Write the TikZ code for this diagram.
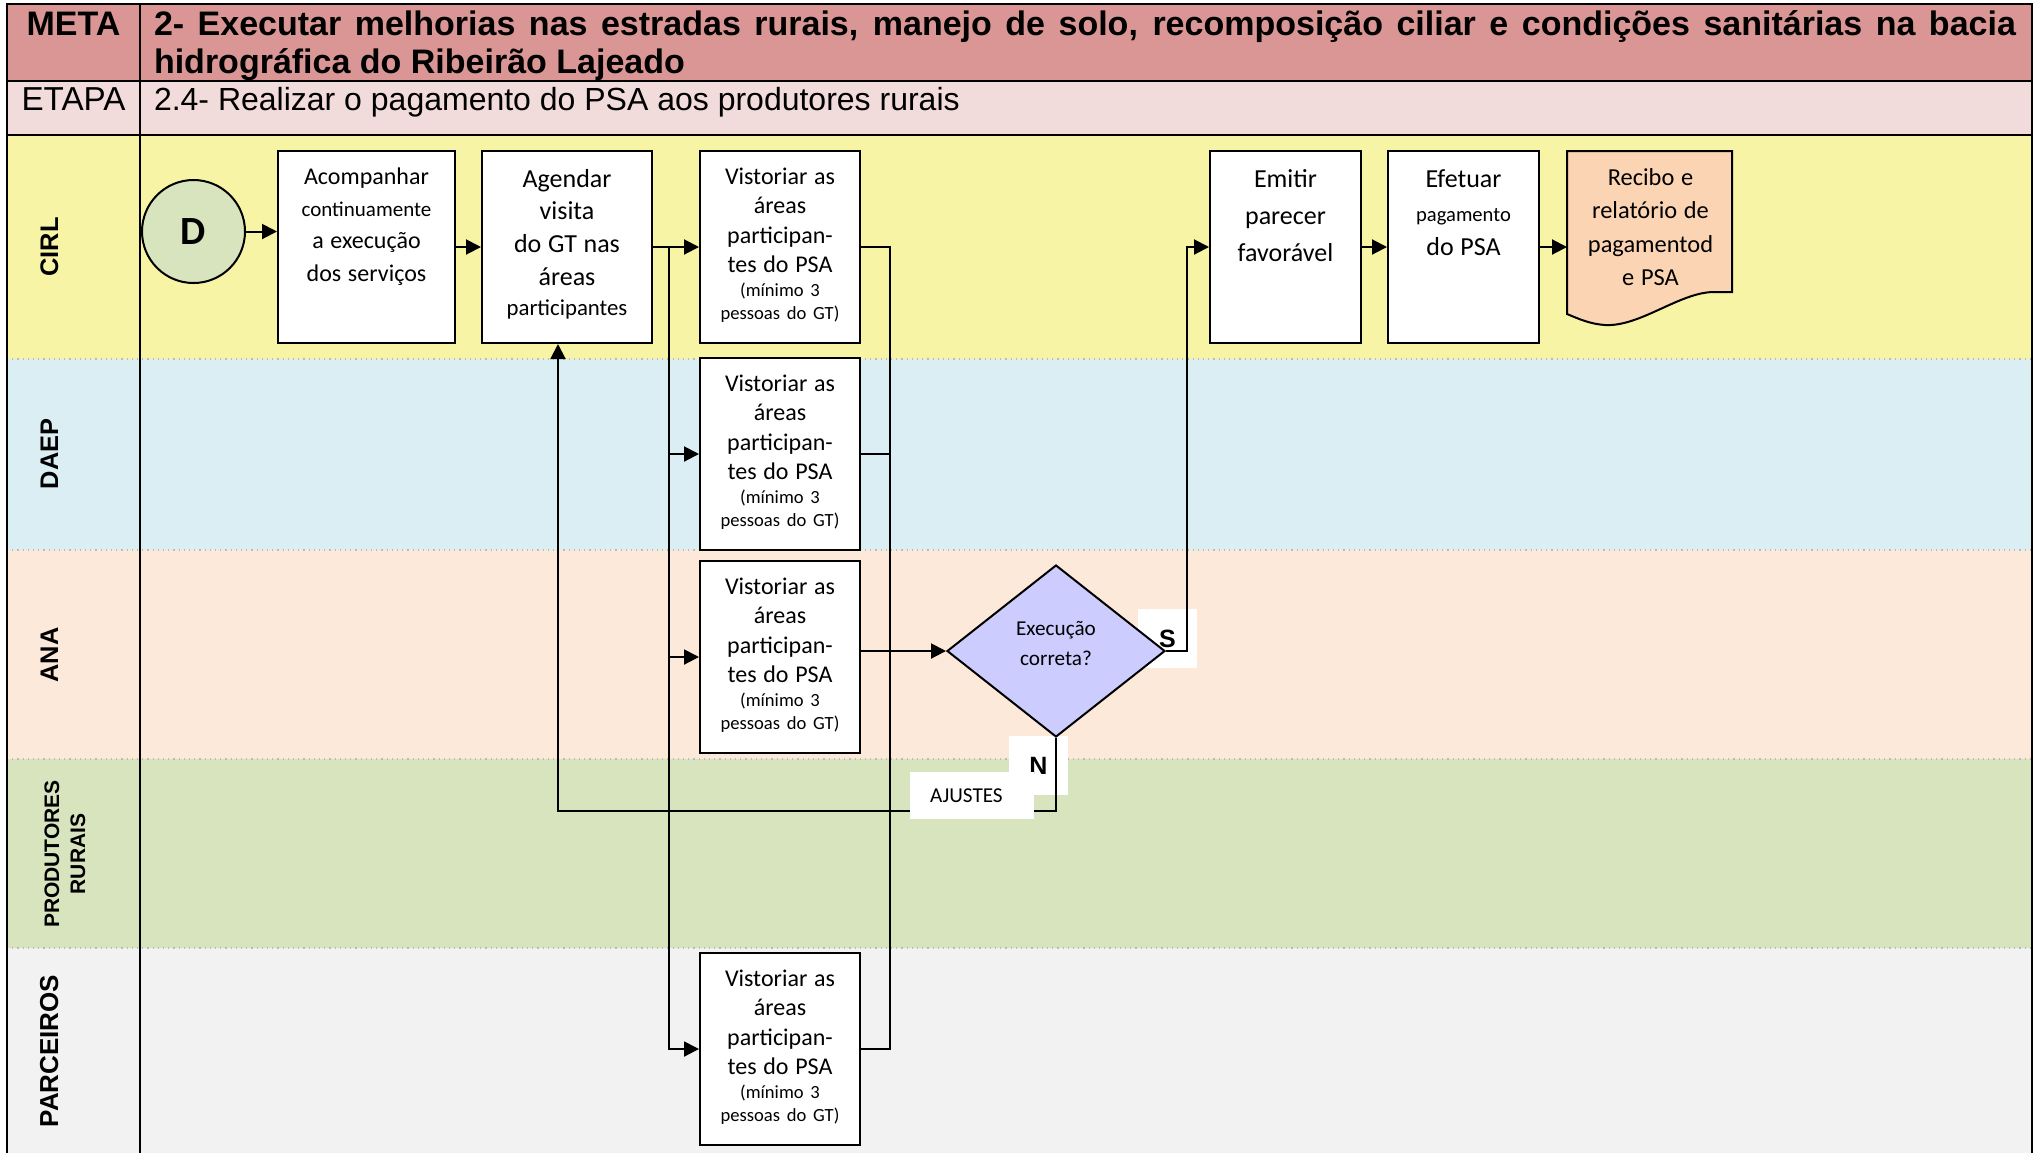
\documentclass[tikz,border=0pt]{standalone}
\usepackage{fontspec}
\setmainfont{Liberation Sans}
\newfontfamily\calibri{Carlito}
\usetikzlibrary{shapes.geometric, arrows.meta, positioning, calc}

\definecolor{metaRow}{HTML}{D99694}
\definecolor{etapaRow}{HTML}{F2DCDB}
\definecolor{cirlLane}{HTML}{F8F4A6}
\definecolor{daepLane}{HTML}{DBEEF3}
\definecolor{anaLane}{HTML}{FDE9D9}
\definecolor{prodLane}{HTML}{D7E4BD}
\definecolor{parcLane}{HTML}{F2F2F2}
\definecolor{inicioFill}{HTML}{D7E4BD}
\definecolor{decisaoFill}{HTML}{CCCCFF}
\definecolor{docFill}{HTML}{FBD4B4}

\newcommand{\vistoriaTexto}{\fontsize{12}{14.8}\selectfont Vistoriar as\\áreas\\participan-\\tes do PSA\par
  \fontsize{9.3}{11.6}\selectfont (mínimo 3\\pessoas do GT)\par}

\begin{document}
\begin{tikzpicture}[
    x=0.5pt, y=-0.5pt,
    line width=1pt,
    >={Triangle[length=7.5pt, width=7.5pt]},
    tarefa/.style={draw, fill=white, inner sep=0pt, align=center, text width=#1, minimum height=96pt, font=\calibri},
    raia/.style={rotate=90, anchor=base, inner sep=0pt, font=\bfseries\fontsize{12.7}{15}\selectfont},
    rotulo/.style={fill=white, inner sep=0pt, minimum size=29.5pt, font=\bfseries\fontsize{12.5}{15}\selectfont},
    cabec/.style={inner sep=0pt, font=\fontsize{16}{18}\selectfont},
]
    \useasboundingbox (0,0) rectangle (2038,1153);

    % header rows and lanes
    \fill[metaRow] (7,4) rectangle (2032,81);
    \fill[etapaRow] (7,81) rectangle (2032,135);
    \fill[cirlLane] (7,135) rectangle (2032,359);
    \fill[daepLane] (7,359) rectangle (2032,550);
    \fill[anaLane] (7,550) rectangle (2032,759);
    \fill[prodLane] (7,759) rectangle (2032,948);
    \fill[parcLane] (7,948) rectangle (2032,1153);
    \foreach \y in {359,550,759,948}
        \draw[gray!55, dotted, line width=0.6pt] (7,\y) -- (2032,\y);

    \draw[line width=1.2pt] (7,1153) -- (7,4) -- (2032,4) -- (2032,1153);
    \draw[line width=1.2pt] (7,81) -- (2032,81);
    \draw[line width=1.2pt] (7,135) -- (2032,135);
    \draw[line width=1.2pt] (140,4) -- (140,1153);

    \node[cabec, anchor=base, font=\bfseries\fontsize{17}{19}\selectfont] (metaRot) at (73.5,35.5) {META};
    \node[cabec, anchor=base west, text width=931pt, align=justify, font=\bfseries\fontsize{17}{19}\selectfont] (metaTxt) at (153,35.5)
        {2- Executar melhorias nas estradas rurais, manejo de solo, recomposição ciliar e condições sanitárias na bacia hidrográfica do Ribeirão Lajeado\par};
    \node[cabec, anchor=base, font=\fontsize{16.6}{18}\selectfont] (etapaRot) at (73.5,110) {ETAPA};
    \node[cabec, anchor=base west] (etapaTxt) at (153,110) {2.4- Realizar o pagamento do PSA aos produtores rurais};

    % lane names
    \node[raia] (lCirl) at (58,247) {CIRL};
    \node[raia] (lDaep) at (58,454) {DAEP};
    \node[raia] (lAna) at (58,655) {ANA};
    \node[raia, anchor=center, align=center, font=\bfseries\fontsize{10.5}{13}\selectfont] (lProd) at (65,854) {PRODUTORES\\RURAIS};
    \node[raia, font=\bfseries\fontsize{13}{15}\selectfont] (lParc) at (58,1051) {PARCEIROS};

    % S / N labels
    \node[rotulo] (sim) at (1167.5,638.5) {S};
    \node[rotulo] (nao) at (1038.5,765.5) {N};

    % document shape
    \coordinate (docNW) at (1567,151);
    \draw[fill=docFill, shift={(docNW)}] (0,0) -- (165,0) -- (165,141) -- (147,141)
        .. controls (113,141) and (73,176) .. (38,174)
        .. controls (23,173) and (12,168) .. (0,163) -- cycle;

    % CIRL
    \node[circle, draw, fill=inicioFill, minimum size=51.5pt, inner sep=0pt, font=\calibri\bfseries\fontsize{20}{20}\selectfont] (inicio) at (193.5,231.5) {D};
    \node[tarefa=88.5pt, anchor=north west, text height=16.5pt, text depth=79.5pt] (acomp) at (277,150)
        {\fontsize{12}{16.2}\selectfont Acompanhar\\{\fontsize{10.5}{16.2}\selectfont continuamente}\\a execução\\dos serviços\par};
    \node[tarefa=85pt, right=12.5pt of acomp, text height=18pt, text depth=78pt] (agendar)
        {\fontsize{13}{16.4}\selectfont Agendar\\visita\\do GT nas\\áreas\par\fontsize{11.4}{15}\selectfont participantes\par};
    \node[tarefa=80pt, right=23pt of agendar, text height=16.5pt, text depth=79.5pt] (vistCirl) {\vistoriaTexto};
    \node[tarefa=80pt, below=6.5pt of vistCirl, text height=16.5pt, text depth=79.5pt] (vistDaep) {\vistoriaTexto};
    \node[tarefa=80pt, below=4.5pt of vistDaep, text height=16.5pt, text depth=79.5pt] (vistAna) {\vistoriaTexto};
    \node[tarefa=80pt, below=99pt of vistAna, text height=16.5pt, text depth=79.5pt] (vistParc) {\vistoriaTexto};

    \node[diamond, draw, fill=decisaoFill, inner sep=0pt, minimum width=109pt, minimum height=86pt,
          text width=50pt, align=center, text height=9pt, text depth=24.4pt,
          font=\calibri\fontsize{10.6}{15}\selectfont, right=42.5pt of vistAna, yshift=3pt] (decisao) {Execução\\correta?\par};

    \node[tarefa=75.5pt, anchor=north west, text height=18pt, text depth=78pt] (emitir) at (1209,150)
        {\fontsize{13}{18.5}\selectfont Emitir\\parecer\\favorável\par};
    \node[tarefa=75.5pt, right=12.5pt of emitir, text height=18pt, text depth=78pt] (efetuar)
        {\fontsize{13}{17}\selectfont Efetuar\\{\fontsize{10.3}{17}\selectfont pagamento}\\do PSA\par};
    \node[anchor=north west, inner sep=0pt, text width=82.5pt, align=center, text height=16.5pt, text depth=78.5pt, font=\calibri] (recibo) at (docNW)
        {\fontsize{12.2}{16.8}\selectfont Recibo e\\relatório de\\pagamentod\\e PSA\par};

    % connectors
    \draw[->] (inicio) -- (inicio -| acomp.west);
    \draw[->] (acomp) -- (agendar);
    \draw[->] (agendar) -- (vistCirl);
    \coordinate (ramo) at ($(agendar.east)+(8pt,0)$);
    \draw[->] (ramo) |- (vistDaep.west);
    \draw[->] (ramo) |- (vistAna.west);
    \draw[->] (ramo) |- (vistParc.west);

    \coordinate (uniao) at ($(vistCirl.east)+(14.5pt,0)$);
    \draw (vistCirl.east) -- (uniao) |- (vistParc.east);
    \draw (vistDaep.east) -- (vistDaep.east -| uniao);
    \draw[->] (decisao.west -| vistAna.east) -- (decisao.west);

    \draw[->] (decisao.east) -- ++(10.5pt,0) |- (emitir.west);
    \draw[->] (emitir) -- (efetuar);
    \draw[->] (efetuar) -- (recibo);

    \coordinate (retorno) at ($(agendar.south)+(-4.5pt,0)$);
    \draw[->] (decisao.south) -- ++(0,-36.5pt) -| (retorno);

    \node[fill=white, inner xsep=10pt, inner ysep=0pt, text width=42pt, minimum height=23.5pt, align=left,
          font=\calibri\fontsize{10.6}{12}\selectfont] (ajustes) at (972,795.5) {AJUSTES};
\end{tikzpicture}
\end{document}
